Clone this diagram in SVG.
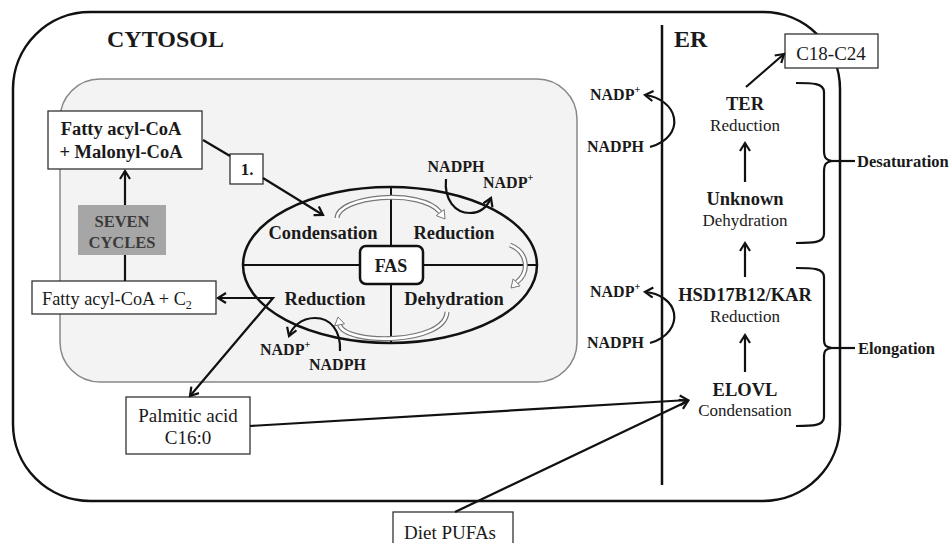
<svg xmlns="http://www.w3.org/2000/svg" width="950" height="543" viewBox="0 0 950 543">
<defs>
<marker id="ah" markerUnits="userSpaceOnUse" markerWidth="14" markerHeight="14" refX="9" refY="6" orient="auto-start-reverse">
<path d="M1,1 L9,6 L1,11" fill="none" stroke="#111" stroke-width="2.2" stroke-linejoin="miter"/>
</marker>
</defs>
<style>
text{font-family:"Liberation Serif","Times New Roman",serif;fill:#1a1a1a}
.b{font-weight:bold}
.t{font-size:24px;font-weight:bold}
.c{text-anchor:middle}
.box{fill:#fff;stroke:#333;stroke-width:1.3}
.ln{fill:none;stroke:#111;stroke-width:2.2}
.arr{fill:none;stroke:#111;stroke-width:2.2;marker-end:url(#ah)}
.ho{fill:none;stroke:#777;stroke-width:5}
.hi{fill:none;stroke:#fff;stroke-width:2.6}
.hh{fill:#fff;stroke:#777;stroke-width:1}
.sup{font-size:10px}
</style>

<g id="cell">
<rect x="13" y="12" width="827" height="489" rx="77" ry="77" fill="#fff" stroke="#111" stroke-width="2.5"/>
<line x1="662" y1="25" x2="662" y2="485" stroke="#111" stroke-width="2.5"/>
<text class="t" x="107" y="47">CYTOSOL</text>
<text class="t" x="674" y="47">ER</text>
</g>

<g id="fas-region">
<rect x="60" y="79" width="517" height="303" rx="40" ry="40" fill="#f3f3f3" stroke="#888" stroke-width="1.5"/>
</g>

<g id="fas">
<ellipse cx="390" cy="265" rx="147" ry="78" fill="none" stroke="#111" stroke-width="2.5"/>
<line x1="243" y1="265" x2="537" y2="265" stroke="#111" stroke-width="2"/>
<line x1="391" y1="187" x2="391" y2="343" stroke="#111" stroke-width="2"/>
<rect x="360" y="246" width="63" height="38" rx="6" ry="6" fill="#fff" stroke="#111" stroke-width="2.5"/>
<text class="b c" x="391" y="272" font-size="18">FAS</text>
<text class="b c" x="323" y="239" font-size="18.5">Condensation</text>
<text class="b c" x="454" y="239" font-size="18.5">Reduction</text>
<text class="b c" x="325" y="305" font-size="18.5">Reduction</text>
<text class="b c" x="454" y="305" font-size="18.5">Dehydration</text>
</g>

<g id="hollow-arrows">
<path class="ho" d="M337,218 C338,196 420,188 440,212"/>
<path class="hi" d="M337,218 C338,196 420,188 440,212"/>
<polygon class="hh" points="445,219 444.2,209.6 436.2,215.6"/>
<path class="ho" d="M510,245 C528,252 530,272 516.6,282.4"/>
<path class="hi" d="M510,245 C528,252 530,272 516.6,282.4"/>
<polygon class="hh" points="511,288 520.1,285.9 513.1,278.9"/>
<path class="ho" d="M447,312 C445,345 345,345 339.6,324.8"/>
<path class="hi" d="M447,312 C445,345 345,345 339.6,324.8"/>
<polygon class="hh" points="338,317 344.5,323.8 334.7,325.8"/>
</g>

<g id="fatty-malonyl">
<rect class="box" x="48" y="111" width="154" height="58"/>
<text class="b c" x="121" y="135" font-size="18.5">Fatty acyl-CoA</text>
<text class="b c" x="121" y="158" font-size="18.5">+ Malonyl-CoA</text>
</g>

<g id="step1">
<rect class="box" x="230" y="154" width="33" height="30"/>
<text class="b c" x="247" y="175" font-size="17">1.</text>
</g>

<g id="seven-cycles">
<rect x="78" y="205" width="88" height="50" fill="#a6a6a6"/>
<text class="b c" x="122" y="227" font-size="16.5" style="fill:#3a3a3a">SEVEN</text>
<text class="b c" x="122" y="248" font-size="16.5" style="fill:#3a3a3a">CYCLES</text>
</g>

<g id="fatty-c2">
<rect class="box" x="32" y="281" width="184" height="33"/>
<text x="42" y="305" font-size="18.3">Fatty acyl-CoA + C<tspan font-size="12" dy="4">2</tspan></text>
</g>

<g id="palmitic">
<rect class="box" x="126" y="397" width="124" height="57"/>
<text class="c" x="188" y="422" font-size="19">Palmitic acid</text>
<text class="c" x="188" y="444" font-size="19">C16:0</text>
</g>

<g id="diet">
<rect class="box" x="393" y="512" width="120" height="50"/>
<text class="c" x="450" y="539" font-size="19">Diet PUFAs</text>
</g>

<g id="c18c24">
<rect class="box" x="785" y="34" width="93" height="34"/>
<text class="c" x="831" y="60" font-size="19">C18-C24</text>
</g>

<g id="cofactors">
<text class="b c" x="456" y="172" font-size="16">NADPH</text>
<text class="b" x="483" y="188" font-size="16">NADP<tspan class="sup" dy="-7">+</tspan></text>
<text class="b" x="260" y="355" font-size="16">NADP<tspan class="sup" dy="-7">+</tspan></text>
<text class="b" x="309" y="370" font-size="16">NADPH</text>
<text class="b" x="590" y="100" font-size="16">NADP<tspan class="sup" dy="-7">+</tspan></text>
<text class="b" x="587" y="152" font-size="16">NADPH</text>
<text class="b" x="590" y="297" font-size="16">NADP<tspan class="sup" dy="-7">+</tspan></text>
<text class="b" x="587" y="348" font-size="16">NADPH</text>
</g>

<g id="er-steps">
<text class="b c" x="745" y="110" font-size="18.5">TER</text>
<text class="c" x="745" y="131" font-size="17">Reduction</text>
<text class="b c" x="745" y="205" font-size="18.5">Unknown</text>
<text class="c" x="745" y="226" font-size="17">Dehydration</text>
<text class="b c" x="745" y="301" font-size="18.5">HSD17B12/KAR</text>
<text class="c" x="745" y="322" font-size="17">Reduction</text>
<text class="b c" x="745" y="396" font-size="18.5">ELOVL</text>
<text class="c" x="745" y="416" font-size="17">Condensation</text>
</g>

<g id="brackets">
<path class="ln" d="M796,83 C812,83 824,83 824,92 L824,150 C824,158 826,160 832,161 C826,162 824,164 824,172 L824,234 C824,243 812,243 796,243"/>
<line x1="832" y1="161" x2="855" y2="161" stroke="#111" stroke-width="2.2"/>
<text class="b" x="857" y="167" font-size="16.5">Desaturation</text>
<path class="ln" d="M796,268 C812,268 824,268 824,277 L824,339 C824,346 826,347 832,348 C826,349 824,350 824,357 L824,417 C824,426 812,426 796,426"/>
<line x1="832" y1="348" x2="855" y2="348" stroke="#111" stroke-width="2.2"/>
<text class="b" x="858" y="354" font-size="16.5">Elongation</text>
</g>

<g id="connectors">
<path class="ln" d="M203,140 L230,156"/>
<path class="arr" d="M263,178 L323,215"/>
<path class="arr" d="M125,205 L125,171"/>
<path class="ln" d="M125,281 L125,255"/>
<path class="arr" d="M218,298 L273,298 L190,396" marker-start="url(#ah)"/>
<path class="arr" d="M250,426 L688,400"/>
<path class="arr" d="M455,512 L688,401"/>
<path class="arr" d="M746,87 L784,54"/>
<path class="arr" d="M745,182 L745,143" stroke-width="1.8"/>
<path class="arr" d="M745,277 L745,243" stroke-width="1.8"/>
<path class="arr" d="M745,372 L745,335" stroke-width="1.8"/>
<path class="arr" d="M446,179 C444,200 455,213 470,213 C482,213 488,205 491,198"/>
<path class="arr" d="M340,351 C341,330 330,318 315,318 C300,318 292,328 289,336"/>
<path class="arr" d="M650,147 C668,142 676,130 674,118 C672,106 660,97 645,95"/>
<path class="arr" d="M650,343 C668,338 676,325 674,313 C672,302 660,293 645,292"/>
</g>
</svg>
